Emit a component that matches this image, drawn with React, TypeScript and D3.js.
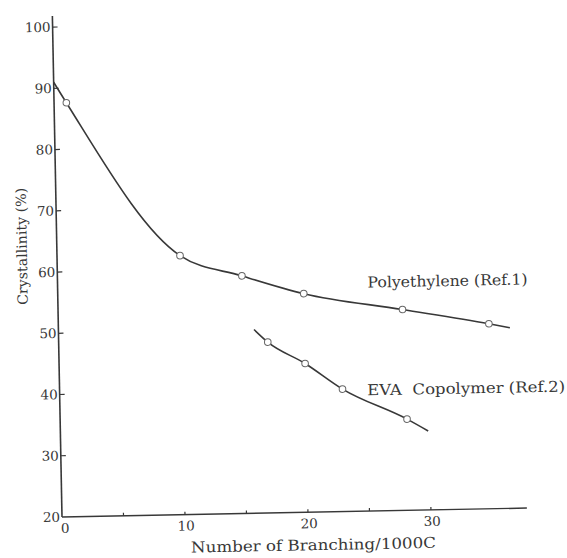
import React from "react";
import * as d3 from "d3";

// values
const yTicks = [20, 30, 40, 50, 60, 70, 80, 90, 100];
const xTicks = [0, 5, 10, 15, 20, 25, 30];
const xLabels = [0, 10, 20, 30];

// polyethylene: measured points + where the drawn curve starts / ends
const peX = [1, 10, 15, 20, 28, 35];
const peY = [87.6, 62.3, 58.8, 55.7, 52.8, 50.2];
const peStart = [0, 91];
const peEnd = [36.7, 49.5];

// EVA copolymer
const evaX = [17, 20, 23, 28.2];
const evaY = [47.9, 44.3, 40.0, 34.9];
const evaStart = [15.9, 50.0];
const evaEnd = [29.9, 32.9];

const size = { width: 567, height: 558 };
const origin = { x: 62, y: 517 };
const tilt = -1.1; // the scan is a little crooked

const ink = "#383838";
const font = "'DejaVu Serif', 'Liberation Serif', serif";

const x = d3.scaleLinear().domain([0, 10]).range([origin.x, origin.x + 123]);
const y = d3.scaleLinear().domain([20, 100]).range([origin.y, origin.y - 490]);

const curve = d3
  .line<number[]>()
  .x((d) => x(d[0]))
  .y((d) => y(d[1]))
  .curve(d3.curveMonotoneX);

export default function App() {
  const pePath = [peStart, ...peX.map((v, i) => [v, peY[i]]), peEnd];
  const evaPath = [evaStart, ...evaX.map((v, i) => [v, evaY[i]]), evaEnd];

  return (
    <svg
      width={size.width}
      height={size.height}
      style={{ position: "absolute", left: 0, top: 0, display: "block", background: "#fff" }}
      fontFamily={font}
    >
      <g transform={`rotate(${tilt} ${origin.x} ${origin.y})`}>
        {/* axes */}
        <line x1={x(0)} x2={x(0)} y1={y(20)} y2={y(101.8)} stroke={ink} strokeWidth={1.6} />
        <line x1={x(0)} x2={x(37.8)} y1={y(20)} y2={y(20)} stroke={ink} strokeWidth={1.4} />

        {yTicks.map((t) => (
          <g key={"y" + t}>
            {t > 20 && <line x1={x(0)} x2={x(0) + 5} y1={y(t)} y2={y(t)} stroke={ink} strokeWidth={1.2} />}
            <text
              x={x(0) - 2}
              y={y(t)}
              dy="0.35em"
              textAnchor="end"
              fontSize={13.5}
              fill={ink}
            >
              {t}
            </text>
          </g>
        ))}

        {xTicks.map((t) =>
          t > 0 ? (
            <line key={"x" + t} x1={x(t)} x2={x(t)} y1={y(20)} y2={y(20) - 3} stroke={ink} strokeWidth={1.2} />
          ) : null
        )}
        {xLabels.map((t) => (
          <text
            key={"xl" + t}
            x={x(t) + (t === 0 ? 3 : 1)}
            y={y(20) + 16}
            textAnchor="middle"
            fontSize={13.5}
            fill={ink}
          >
            {t}
          </text>
        ))}

        {/* axis titles */}
        <text
          transform={`translate(${x(0) - 35},${y(64.3)}) rotate(-90)`}
          textAnchor="middle"
          dy="0.35em"
          fontSize={14}
          fill={ink}
          textLength={117}
          lengthAdjust="spacingAndGlyphs"
        >
          Crystallinity (%)
        </text>
        <text
          x={x(20.4)}
          y={y(20) + 38}
          textAnchor="middle"
          fontSize={15}
          fill={ink}
          textLength={245}
          lengthAdjust="spacingAndGlyphs"
        >
          Number of Branching/1000C
        </text>

        {/* curves */}
        <path d={curve(pePath) || ""} fill="none" stroke={ink} strokeWidth={1.6} />
        <path d={curve(evaPath) || ""} fill="none" stroke={ink} strokeWidth={1.6} />

        {peX.map((v, i) => (
          <circle key={"pe" + i} cx={x(v)} cy={y(peY[i])} r={3.3} fill="#fff" stroke="#666" strokeWidth={1} />
        ))}
        {evaX.map((v, i) => (
          <circle key={"eva" + i} cx={x(v)} cy={y(evaY[i])} r={3.3} fill="#fff" stroke="#666" strokeWidth={1} />
        ))}

        {/* series labels */}
        <text
          x={x(25.2)}
          y={y(56.5)}
          fontSize={15}
          fill={ink}
          textLength={160}
          lengthAdjust="spacingAndGlyphs"
        >
          Polyethylene (Ref.1)
        </text>
        <text
          x={x(25)}
          y={y(38.9)}
          fontSize={15}
          fill={ink}
          textLength={198}
          lengthAdjust="spacingAndGlyphs"
          style={{ whiteSpace: "pre" }}
        >
          EVA  Copolymer (Ref.2)
        </text>
      </g>
    </svg>
  );
}
